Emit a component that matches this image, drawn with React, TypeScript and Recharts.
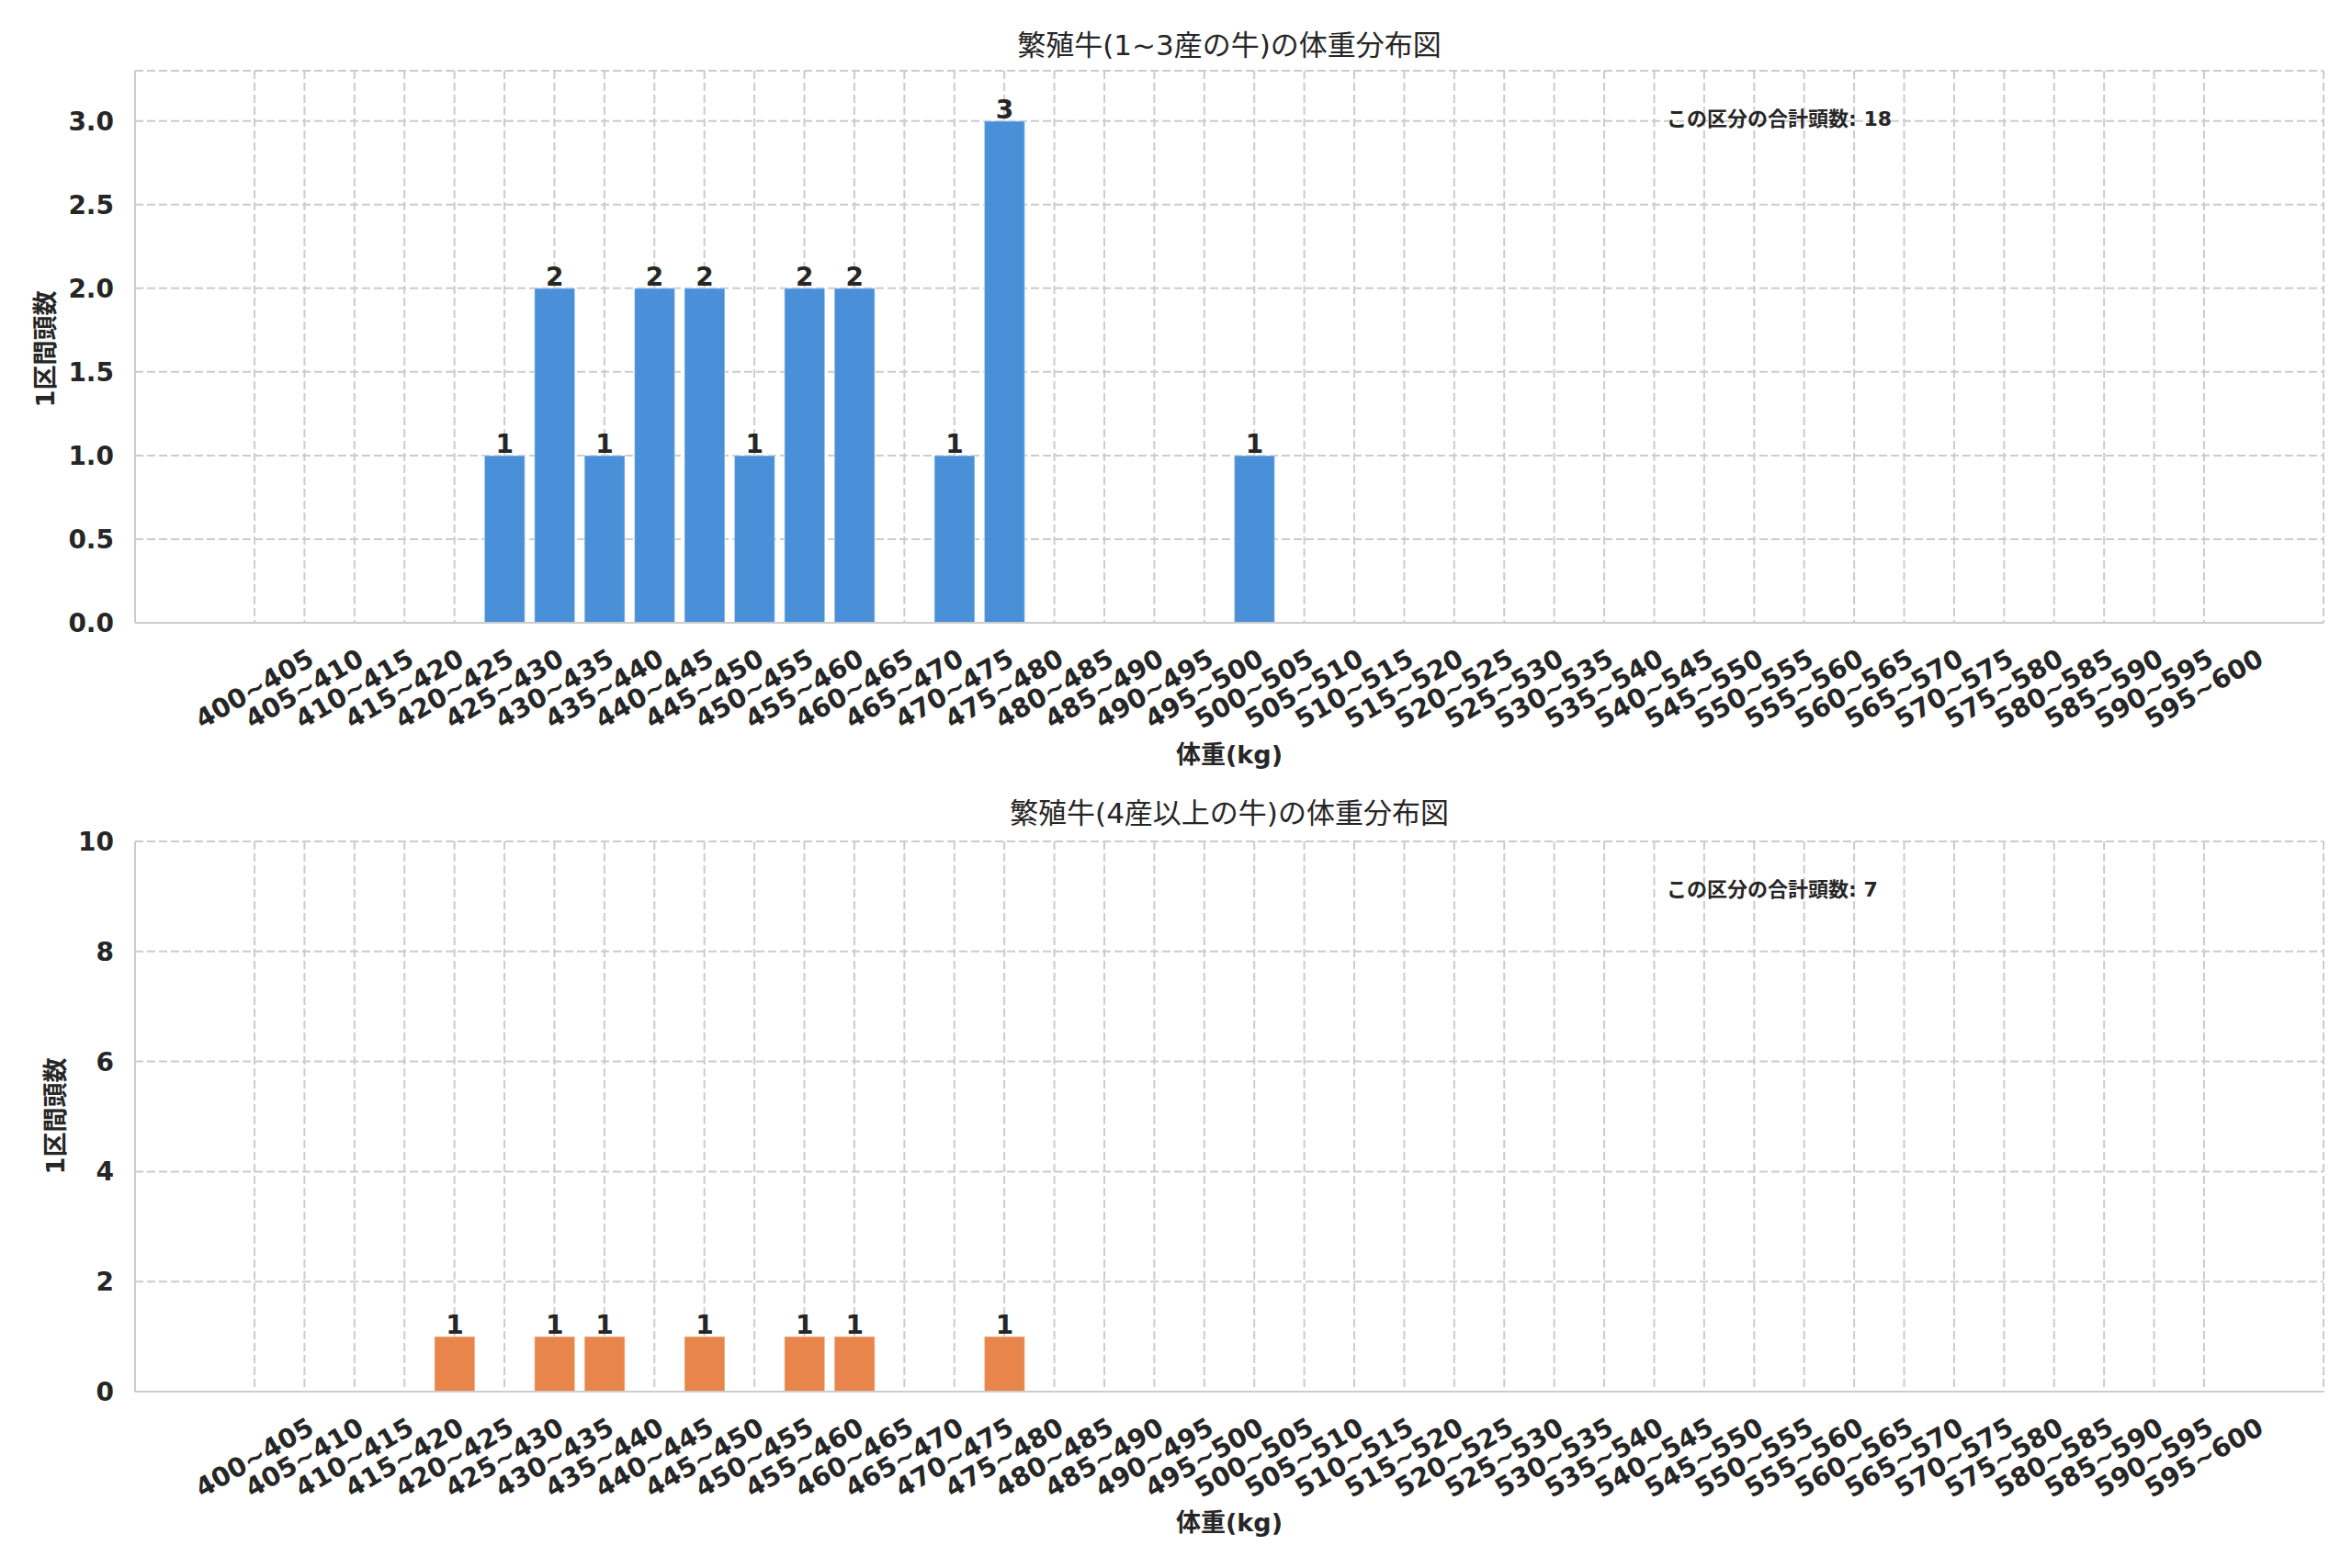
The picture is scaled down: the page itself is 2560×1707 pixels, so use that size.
import React from 'react';
import { BarChart, Bar, XAxis, YAxis, CartesianGrid, LabelList } from 'recharts';

const bins = [
  '400~405', '405~410', '410~415', '415~420', '420~425', '425~430', '430~435', '435~440',
  '440~445', '445~450', '450~455', '455~460', '460~465', '465~470', '470~475', '475~480',
  '480~485', '485~490', '490~495', '495~500', '500~505', '505~510', '510~515', '515~520',
  '520~525', '525~530', '530~535', '535~540', '540~545', '545~550', '550~555', '555~560',
  '560~565', '565~570', '570~575', '575~580', '580~585', '585~590', '590~595', '595~600',
];

const countsYoung = [
  0, 0, 0, 0, 0, 1, 2, 1, 2, 2, 1, 2, 2, 0, 1, 3, 0, 0, 0, 0,
  1, 0, 0, 0, 0, 0, 0, 0, 0, 0, 0, 0, 0, 0, 0, 0, 0, 0, 0, 0,
];

const countsOld = [
  0, 0, 0, 0, 1, 0, 1, 1, 0, 1, 0, 1, 1, 0, 0, 1, 0, 0, 0, 0,
  0, 0, 0, 0, 0, 0, 0, 0, 0, 0, 0, 0, 0, 0, 0, 0, 0, 0, 0, 0,
];

const ticksYoung = [0, 0.5, 1.0, 1.5, 2.0, 2.5, 3.0];
const ticksOld = [0, 2, 4, 6, 8, 10];

const titleYoung = '繁殖牛(1~3産の牛)の体重分布図';
const titleOld = '繁殖牛(4産以上の牛)の体重分布図';
const yLabel = '1区間頭数';
const xLabel = '体重(kg)';
const noteLabel = 'この区分の合計頭数';
const totalYoung = 18;
const totalOld = 7;

const dataYoung = bins.map((bin, i) => ({ bin, count: countsYoung[i] }));
const dataOld = bins.map((bin, i) => ({ bin, count: countsOld[i] }));

const FONT = "'DejaVu Sans', 'Noto Sans CJK JP', sans-serif";
const TEXT = '#262626';
const LINE = '#cccccc';
const BLUE = '#4a90d9';
const ORANGE = '#e8854a';

const XTick = (props: any) => {
  const { x, y, payload } = props;
  return (
    <text
      transform={`translate(${x},${y + 72}) rotate(-30)`}
      textAnchor="middle"
      dominantBaseline="central"
      fontSize={28.5}
      fontWeight="bold"
      fill={TEXT}
      fontFamily={FONT}
    >
      {payload.value}
    </text>
  );
};

const BarValue = (props: any) => {
  const { x, y, width, value } = props;
  if (!value) return null;
  return (
    <text
      x={x + width / 2}
      y={y - 3}
      textAnchor="middle"
      fontSize={28}
      fontWeight="bold"
      fill={TEXT}
      fontFamily={FONT}
    >
      {value}
    </text>
  );
};

function Panel(props: {
  data: any[];
  color: string;
  domainMax: number;
  ticks: number[];
  fmt: (v: number) => string;
  height: number;
  top: number;
  xAxisHeight: number;
}) {
  const { data, color, domainMax, ticks, fmt, height, top, xAxisHeight } = props;
  return (
    <BarChart
      width={2560}
      height={height}
      data={data}
      margin={{ top, right: 31, bottom: 0, left: 0 }}
      barCategoryGap="10%"
    >
      <CartesianGrid stroke={LINE} strokeWidth={2} strokeDasharray="9 4" />
      <XAxis
        dataKey="bin"
        interval={0}
        height={xAxisHeight}
        padding={{ left: 102.8, right: 102.8 }}
        tick={<XTick />}
        tickSize={0}
        tickMargin={0}
        tickLine={false}
        axisLine={{ stroke: LINE, strokeWidth: 2 }}
      />
      <XAxis
        xAxisId="top"
        dataKey="bin"
        orientation="top"
        height={0}
        tick={false}
        tickLine={false}
        axisLine={{ stroke: LINE, strokeWidth: 2 }}
      />
      <YAxis
        width={147}
        domain={[0, domainMax]}
        ticks={ticks}
        tickFormatter={fmt}
        tickSize={0}
        tickMargin={23}
        tickLine={false}
        axisLine={{ stroke: LINE, strokeWidth: 2 }}
        tick={{ fontSize: 28, fontWeight: 'bold', fill: TEXT, fontFamily: FONT }}
        allowDataOverflow
      />
      <YAxis
        yAxisId="right"
        orientation="right"
        width={0}
        domain={[0, domainMax]}
        tick={false}
        tickLine={false}
        axisLine={{ stroke: LINE, strokeWidth: 2 }}
      />
      <Bar
        dataKey="count"
        fill={color}
        stroke="#ffffff"
        strokeOpacity={0.35}
        strokeWidth={1.5}
        isAnimationActive={false}
      >
        <LabelList dataKey="count" content={<BarValue />} />
      </Bar>
    </BarChart>
  );
}

export default function App() {
  const cx = (147 + 2529) / 2;
  return (
    <div
      style={{
        position: 'absolute',
        left: 0,
        top: 0,
        width: 2560,
        height: 1707,
        background: '#ffffff',
        overflow: 'hidden',
      }}
    >
      <div style={{ position: 'absolute', left: 0, top: 0 }}>
        <Panel
          data={dataYoung}
          color={BLUE}
          domainMax={3.3}
          ticks={ticksYoung}
          fmt={(v) => v.toFixed(1)}
          height={853}
          top={77}
          xAxisHeight={175}
        />
      </div>
      <div style={{ position: 'absolute', left: 0, top: 853 }}>
        <Panel
          data={dataOld}
          color={ORANGE}
          domainMax={10}
          ticks={ticksOld}
          fmt={(v) => String(v)}
          height={854}
          top={63}
          xAxisHeight={192}
        />
      </div>
      <svg
        width={2560}
        height={1707}
        style={{ position: 'absolute', left: 0, top: 0, pointerEvents: 'none' }}
        fontFamily={FONT}
      >
        <text x={cx} y={49} textAnchor="middle" dominantBaseline="central" fontSize={31} fill={TEXT}>
          {titleYoung}
        </text>
        <text x={cx} y={885} textAnchor="middle" dominantBaseline="central" fontSize={31} fill={TEXT}>
          {titleOld}
        </text>
        <text x={cx} y={821} textAnchor="middle" dominantBaseline="central" fontSize={27} fontWeight="bold" fill={TEXT}>
          {xLabel}
        </text>
        <text x={cx} y={1657} textAnchor="middle" dominantBaseline="central" fontSize={27} fontWeight="bold" fill={TEXT}>
          {xLabel}
        </text>
        <text
          transform={`translate(49,380) rotate(-90)`}
          textAnchor="middle"
          dominantBaseline="central"
          fontSize={27}
          fontWeight="bold"
          fill={TEXT}
        >
          {yLabel}
        </text>
        <text
          transform={`translate(60,1215) rotate(-90)`}
          textAnchor="middle"
          dominantBaseline="central"
          fontSize={27}
          fontWeight="bold"
          fill={TEXT}
        >
          {yLabel}
        </text>
        <text x={1814} y={129} dominantBaseline="central" fontSize={22} fontWeight="bold" fill={TEXT}>
          {`${noteLabel}: ${totalYoung}`}
        </text>
        <text x={1814} y={968} dominantBaseline="central" fontSize={22} fontWeight="bold" fill={TEXT}>
          {`${noteLabel}: ${totalOld}`}
        </text>
      </svg>
    </div>
  );
}
